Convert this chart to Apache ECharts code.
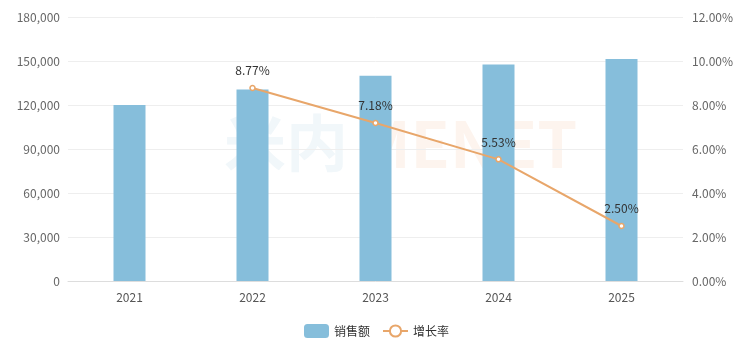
<!DOCTYPE html>
<html>
<head>
<meta charset="utf-8">
<script src="https://cdn.jsdelivr.net/npm/echarts@6/dist/echarts.min.js"></script>
<style>
  html, body { margin: 0; padding: 0; background: #fff; }
  #main { width: 753px; height: 351px; }
</style>
</head>
<body>
<div id="main"></div>
<script>
var years = ['2021', '2022', '2023', '2024', '2025'];
var sales = [120000, 130500, 139900, 147600, 151300];
var growth = [null, 8.77, 7.18, 5.53, 2.50];

var myChart = echarts.init(document.getElementById('main'));
var font = '"Microsoft YaHei", "Noto Sans CJK SC", sans-serif';

var option = {
  animation: false,
  textStyle: { fontFamily: font },
  // 水印
  graphic: [
    {
      type: 'text', left: 224, top: 112, z: -1,
      style: { text: '米内', fontSize: 62, fontWeight: 'bold', fill: '#f1f7fa', fontFamily: font }
    },
    {
      type: 'text', left: 356, top: 112, z: -1,
      style: { text: 'MENET', fontSize: 64, fontWeight: 'bold', fill: '#fdf4ee', fontFamily: font }
    }
  ],
  legend: {
    bottom: 8,
    itemWidth: 25,
    itemHeight: 14,
    itemGap: 12,
    textStyle: { color: '#333', fontSize: 12 },
    data: [
      { name: '销售额', icon: 'roundRect' },
      { name: '增长率' }
    ]
  },
  grid: { left: 68, right: 70, top: 17, bottom: 70 },
  xAxis: {
    type: 'category',
    data: years,
    axisLine: { lineStyle: { color: '#ddd' } },
    axisTick: { show: false },
    axisLabel: { color: '#555', fontSize: 12, margin: 10 }
  },
  yAxis: [
    {
      type: 'value', min: 0, max: 180000, interval: 30000,
      axisLine: { show: false }, axisTick: { show: false },
      axisLabel: {
        color: '#666', fontSize: 12, margin: 8,
        formatter: function (v) { return v.toLocaleString('en-US'); }
      },
      splitLine: { lineStyle: { color: '#eee' } }
    },
    {
      type: 'value', min: 0, max: 12, interval: 2,
      axisLine: { show: false }, axisTick: { show: false },
      axisLabel: {
        color: '#666', fontSize: 12, margin: 9,
        formatter: function (v) { return v.toFixed(2) + '%'; }
      },
      splitLine: { show: false }
    }
  ],
  series: [
    {
      name: '销售额', type: 'bar', data: sales,
      barWidth: 32,
      itemStyle: { color: '#86bedb' }
    },
    {
      name: '增长率', type: 'line', yAxisIndex: 1, data: growth,
      symbol: 'circle', symbolSize: 5,
      itemStyle: { color: '#fff', borderColor: '#e8a66a', borderWidth: 1.5 },
      lineStyle: { color: '#e8a66a', width: 2 },
      label: {
        show: true, position: 'top', distance: 8,
        color: '#333', fontSize: 12,
        formatter: function (p) { return p.value.toFixed(2) + '%'; }
      }
    }
  ]
};
myChart.setOption(option);
</script>
</body>
</html>
